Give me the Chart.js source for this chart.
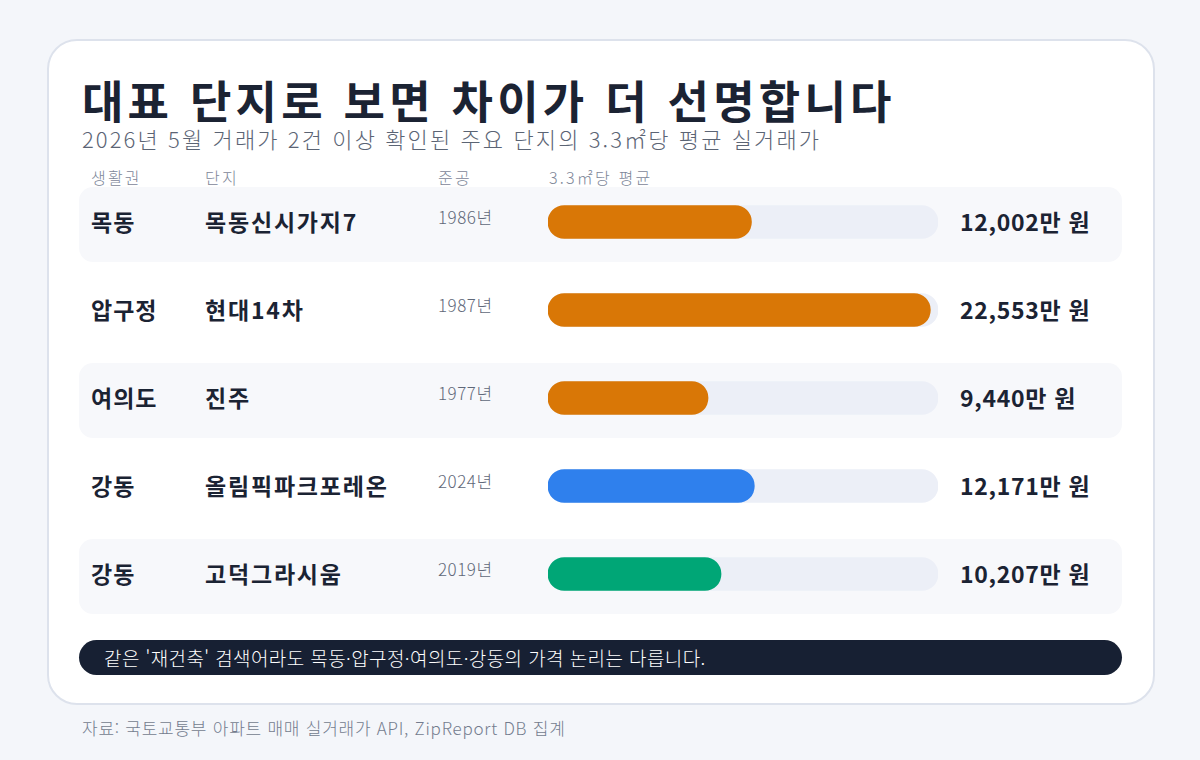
<!DOCTYPE html>
<html lang="ko">
<head>
<meta charset="utf-8">
<script src="https://cdn.jsdelivr.net/npm/chart.js@4.4.1/dist/chart.umd.min.js"></script>
<style>
  body{margin:0;width:1200px;height:760px;background:#f4f6fa;font-family:"Noto Sans CJK KR","Noto Sans",sans-serif;color:#1b2333;position:relative;overflow:hidden;}
  .card{position:absolute;left:47px;top:39px;width:1104px;height:662px;background:#fff;border:2px solid #dde2ec;border-radius:30px;}
  .abs{position:absolute;white-space:nowrap;}
  .title{left:82px;top:77px;line-height:1;font-size:45px;font-weight:700;letter-spacing:4.2px;color:#1b2333;}
  .sub{left:82px;top:127px;line-height:1;font-size:22px;font-weight:300;letter-spacing:2.1px;color:#5b6474;}
  .hd{top:165px;font-size:16px;font-weight:300;letter-spacing:2.2px;color:#7d8698;}
  .band{position:absolute;left:79px;width:1043px;height:75px;background:#f7f8fb;border-radius:14px;}
  .area{left:91px;font-size:23px;font-weight:700;letter-spacing:1px;}
  .name{left:205px;font-size:23px;font-weight:700;letter-spacing:1.8px;}
  .year{left:438px;font-size:17px;font-weight:300;letter-spacing:0.5px;color:#5f6879;}
  .val{left:960px;font-size:23px;font-weight:700;letter-spacing:0.7px;}
  #wrap{position:absolute;left:548px;top:178px;width:390px;height:440px;}
  .note{position:absolute;left:79px;top:640px;width:1043px;height:35px;background:#172033;border-radius:18px;}
  .note span{position:absolute;left:25px;top:4px;font-size:19px;font-weight:300;letter-spacing:0.4px;color:#fff;}
  .src{left:82px;top:715px;font-size:17px;font-weight:300;letter-spacing:0.75px;color:#737c8e;}
</style>
</head>
<body>
<div class="card"></div>
<div class="abs title">대표 단지로 보면 차이가 더 선명합니다</div>
<div class="abs sub">2026년 5월 거래가 2건 이상 확인된 주요 단지의 3.3㎡당 평균 실거래가</div>
<div class="abs hd" style="left:91px">생활권</div>
<div class="abs hd" style="left:205px">단지</div>
<div class="abs hd" style="left:438px">준공</div>
<div class="abs hd" style="left:549px">3.3㎡당 평균</div>
<div id="rows"></div>
<div id="wrap"><canvas id="chart"></canvas></div>
<div class="note"><span>같은 '재건축' 검색어라도 목동·압구정·여의도·강동의 가격 논리는 다릅니다.</span></div>
<div class="abs src">자료: 국토교통부 아파트 매매 실거래가 API, ZipReport DB 집계</div>
<script>
const areas = ["목동", "압구정", "여의도", "강동", "강동"];
const complexes = ["목동신시가지7", "현대14차", "진주", "올림픽파크포레온", "고덕그라시움"];
const years = ["1986년", "1987년", "1977년", "2024년", "2019년"];
const prices = [12002, 22553, 9440, 12171, 10207];
const barColors = ["#d97706", "#d97706", "#d97706", "#2f80ed", "#00a676"];

const axisMax = Math.max(...prices) * 1.02;

// table text + alternating bands
const rows = document.getElementById("rows");
areas.forEach((a, i) => {
  const mid = 222 + i * 88;
  if (i % 2 === 0) rows.innerHTML += `<div class="band" style="top:${mid - 35}px"></div>`;
  rows.innerHTML +=
    `<div class="abs area" style="top:${mid - 18}px">${a}</div>` +
    `<div class="abs name" style="top:${mid - 18}px">${complexes[i]}</div>` +
    `<div class="abs year" style="top:${mid - 18}px">${years[i]}</div>` +
    `<div class="abs val" style="top:${mid - 18}px">${prices[i].toLocaleString("en-US")}만 원</div>`;
});

Chart.defaults.font.family = '"Noto Sans CJK KR", sans-serif';
new Chart(document.getElementById("chart"), {
  type: "bar",
  data: {
    labels: complexes,
    datasets: [
      {
        data: prices,
        backgroundColor: barColors,
        barThickness: 33,
        borderRadius: 17,
        borderSkipped: false,
        order: 0
      },
      {
        data: prices.map(() => axisMax),
        backgroundColor: "#eceff7",
        barThickness: 33,
        borderRadius: 17,
        borderSkipped: false,
        order: 1
      }
    ]
  },
  options: {
    indexAxis: "y",
    responsive: true,
    maintainAspectRatio: false,
    animation: false,
    grouped: false,
    layout: { padding: 0 },
    plugins: { legend: { display: false }, tooltip: { enabled: false } },
    scales: {
      x: { display: false, min: 0, max: axisMax },
      y: { display: false }
    }
  }
});
</script>
</body>
</html>
